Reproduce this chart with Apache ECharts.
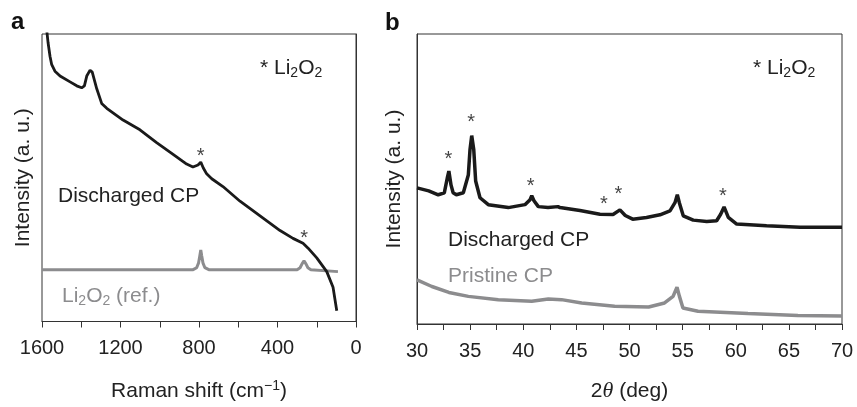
<!DOCTYPE html>
<html>
<head>
<meta charset="utf-8">
<script src="https://cdn.jsdelivr.net/npm/echarts@6/dist/echarts.min.js"></script>
<style>
html,body{margin:0;padding:0;background:#fff;}
#chart{width:857px;height:407px;}
</style>
</head>
<body>
<div id="chart"></div>
<script>
// ---- Panel a: Raman ----
const ramanTicks = [1600, 1200, 800, 400, 0];
const ramanDischargedX = [1577,1569,1559,1551,1534,1508,1457,1423,1398,1384,1372,1355,1344,1321,1296,1270,1187,1101,1016,932,863,831,805,791,778,761,735,678,591,489,387,321,270,244,200,149,117,98];
const ramanDischargedY = [300,285,271,263,256,251,245,241,239,241,251,257,255,238,223,218,206,196,183,171,161,158,160,163,157,151,146,138,123,108,93,85,80,75,65,51,35,11];
const ramanRefX = [1600,830,812,802,796,791,786,780,770,750,300,285,275,265,255,245,230,92];
const ramanRefY = [53,53,55,60,67,73,67,60,55,53,53,55,59,62,59,55,53,51];
const ramanStarX = [791, 264];
const ramanStarY = [173, 89];

// ---- Panel b: XRD ----
const xrdTicks = [30,35,40,45,50,55,60,65,70];
const xrdDischargedX = [30.0,31.1,32.0,32.57,32.85,33.0,33.2,33.4,33.7,34.36,34.83,34.99,35.15,35.34,35.52,35.93,36.71,38.59,40.16,40.64,40.8,41.01,41.42,42.33,43.27,43.46,45.34,47.22,48.45,49.1,49.6,50.3,51.6,52.87,53.81,54.28,54.5,54.69,55.06,56.0,57.27,58.2,58.58,58.9,59.3,60.09,62.9,66.05,70.0];
const xrdDischargedY = [138,135,131,133,148,155,141,133,131,133,151,177,191,177,145,128,121,118,121,126,130,125,119,118,119,118,115,111.3,111,115.7,110,106.3,108,110.7,114.7,123,131,123,109.7,105.3,104,104.7,111.3,118.7,108,101.3,99.7,98,98];
const xrdPristineX = [30.0,31.4,33.0,34.83,37.65,40.8,42.36,43.6,45.5,48.6,51.8,53.3,54.1,54.47,54.7,55.03,56.45,61.15,65.85,70.0];
const xrdPristineY = [44.7,38,32,28,24.7,23,25.3,24.7,21.3,18,17.3,21.3,28,37.3,28,16.3,13,10.7,8.7,8];
const xrdStarX = [32.95, 35.1, 40.7, 47.6, 48.95, 58.8];
const xrdStarY = [171, 208, 143, 125, 135, 133];

const zip = (a, b) => a.map((v, i) => [v, b[i]]);
const FONT = 'Liberation Sans, Arial, Helvetica, sans-serif';
const BLACK = '#1a1a1a';
const GRAY = '#8c8c8e';
const TXT = '#222';

const chart = echarts.init(document.getElementById('chart'), null, {renderer: 'canvas'});

const gridCommon = {show: true, borderColor: '#333', borderWidth: 1, backgroundColor: 'transparent', top: 34, bottom: 79};

const yCommon = {
  type: 'value', min: 0, max: 294,
  axisLine: {show: true, lineStyle: {color: '#333', width: 1}},
  axisTick: {show: false}, axisLabel: {show: false}, splitLine: {show: false},
  name: 'Intensity (a. u.)', nameLocation: 'middle', nameRotate: 90,
  nameTextStyle: {fontFamily: FONT, fontSize: 21, color: TXT}
};

const mk = (o, c) => Object.assign({color: c, fill: c}, o);
const subRich = {
  n: mk({fontFamily: FONT, fontSize: 21, lineHeight: 24}, TXT),
  s: mk({fontFamily: FONT, fontSize: 14, lineHeight: 11, verticalAlign: 'bottom'}, TXT),
  sup: mk({fontFamily: FONT, fontSize: 14, lineHeight: 13, verticalAlign: 'top'}, TXT),
  it: mk({fontFamily: 'Liberation Serif, Times New Roman, serif', fontStyle: 'italic', fontSize: 22, lineHeight: 24}, TXT),
  gn: mk({fontFamily: FONT, fontSize: 21, lineHeight: 24}, GRAY),
  gs: mk({fontFamily: FONT, fontSize: 14, lineHeight: 11, verticalAlign: 'bottom'}, GRAY)
};

const starSeries = (xi, yi, xs, ys) => ({
  type: 'scatter', xAxisIndex: xi, yAxisIndex: yi, symbolSize: 0, silent: true,
  data: zip(xs, ys),
  label: {show: true, position: 'inside', formatter: '*', fontFamily: FONT, fontSize: 20, color: '#111', offset: [0, 4]}
});

const option = {
  animation: false,
  backgroundColor: '#fff',
  grid: [
    Object.assign({left: 42, right: 501}, gridCommon),
    Object.assign({left: 417, right: 15}, gridCommon)
  ],
  xAxis: [
    {
      gridIndex: 0, type: 'value', min: 0, max: 1600, interval: 200, inverse: true,
      axisLine: {show: true, lineStyle: {color: '#333', width: 1}},
      axisTick: {show: true, inside: false, length: 6, lineStyle: {color: '#333', width: 1}},
      axisLabel: {show: true, margin: 17, fontFamily: FONT, fontSize: 20, color: TXT,
        formatter: v => (ramanTicks.indexOf(v) >= 0 ? String(v) : '')},
      splitLine: {show: false},
      name: '{n|Raman shift (cm}{sup|−1}{n|)}', nameLocation: 'middle', nameGap: 58,
      nameTextStyle: {rich: subRich}
    },
    {
      gridIndex: 1, type: 'value', min: 30, max: 70, interval: 2.5,
      axisLine: {show: true, lineStyle: {color: '#333', width: 1}},
      axisTick: {show: true, inside: false, length: 6, lineStyle: {color: '#333', width: 1}},
      axisLabel: {show: true, margin: 17, fontFamily: FONT, fontSize: 20, color: TXT,
        formatter: v => (xrdTicks.indexOf(v) >= 0 ? String(v) : '')},
      splitLine: {show: false},
      name: '{n|2}{it|θ}{n| (deg)}', nameLocation: 'middle', nameGap: 55,
      nameTextStyle: {rich: subRich}
    }
  ],
  yAxis: [
    Object.assign({gridIndex: 0, nameGap: 8}, yCommon),
    Object.assign({gridIndex: 1, nameGap: 12}, yCommon)
  ],
  series: [
    {type: 'line', xAxisIndex: 0, yAxisIndex: 0, showSymbol: false, clip: true, silent: true,
      data: zip(ramanRefX, ramanRefY), lineStyle: {color: GRAY, width: 3}},
    {type: 'line', xAxisIndex: 0, yAxisIndex: 0, showSymbol: false, clip: true, silent: true,
      data: zip(ramanDischargedX, ramanDischargedY), lineStyle: {color: BLACK, width: 2.8}},
    starSeries(0, 0, ramanStarX, ramanStarY),
    {type: 'line', xAxisIndex: 1, yAxisIndex: 1, showSymbol: false, clip: true, silent: true,
      data: zip(xrdPristineX, xrdPristineY), lineStyle: {color: GRAY, width: 3.5}},
    {type: 'line', xAxisIndex: 1, yAxisIndex: 1, showSymbol: false, clip: true, silent: true,
      data: zip(xrdDischargedX, xrdDischargedY), lineStyle: {color: BLACK, width: 3.5}},
    starSeries(1, 1, xrdStarX, xrdStarY)
  ],
  graphic: [
    {type: 'text', x: 11, y: 22, style: {text: 'a', fontFamily: FONT, fontSize: 24, fontWeight: 'bold', fill: '#111', verticalAlign: 'middle'}},
    {type: 'text', x: 385, y: 23, style: {text: 'b', fontFamily: FONT, fontSize: 24, fontWeight: 'bold', fill: '#111', verticalAlign: 'middle'}},
    {type: 'text', x: 260, y: 68, style: {text: '{n|* Li}{s|2}{n|O}{s|2}', rich: subRich, verticalAlign: 'middle'}},
    {type: 'text', x: 753, y: 68, style: {text: '{n|* Li}{s|2}{n|O}{s|2}', rich: subRich, verticalAlign: 'middle'}},
    {type: 'text', x: 58, y: 196, style: {text: 'Discharged CP', fontFamily: FONT, fontSize: 21, fill: TXT, verticalAlign: 'middle'}},
    {type: 'text', x: 62, y: 296, style: {text: '{gn|Li}{gs|2}{gn|O}{gs|2}{gn| (ref.)}', rich: subRich, verticalAlign: 'middle'}},
    {type: 'text', x: 448, y: 240, style: {text: 'Discharged CP', fontFamily: FONT, fontSize: 21, fill: TXT, verticalAlign: 'middle'}},
    {type: 'text', x: 448, y: 276, style: {text: 'Pristine CP', fontFamily: FONT, fontSize: 21, fill: GRAY, verticalAlign: 'middle'}}
  ]
};
chart.setOption(option);
</script>
</body>
</html>
